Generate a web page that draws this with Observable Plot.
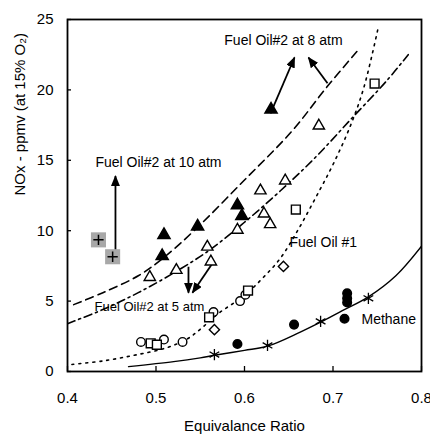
<!DOCTYPE html>
<html>
<head>
<meta charset="utf-8">
<script src="https://cdn.jsdelivr.net/npm/d3@7"></script>
<script src="https://cdn.jsdelivr.net/npm/@observablehq/plot@0.6"></script>
<style>
  html, body { margin: 0; padding: 0; background: #fff; }
  #chart { width: 430px; height: 439px; }
</style>
</head>
<body>
<div id="chart"></div>
<script>
// ---------- data ----------
const xTicks = [0.4, 0.5, 0.6, 0.7, 0.8];
const yTicks = [0, 5, 10, 15, 20, 25];
const xLabel = "Equivalance Ratio";
const yLabel = "NOx - ppmv (at 15% O\u2082)";

// fitted curves
const fo8CurveX = [0.407, 0.44, 0.48, 0.507, 0.543, 0.6, 0.654, 0.693, 0.728];
const fo8CurveY = [4.75, 5.6, 6.8, 8.0, 10.0, 13.6, 17.1, 20.2, 22.8];
const fo5CurveX = [0.4, 0.44, 0.48, 0.52, 0.56, 0.6, 0.64, 0.68, 0.72, 0.76, 0.785];
const fo5CurveY = [3.4, 4.4, 5.6, 7.0, 8.6, 10.6, 12.8, 15.2, 17.9, 20.6, 22.5];
const fo1CurveX = [0.405, 0.44, 0.475, 0.51, 0.535, 0.55, 0.57, 0.6, 0.62, 0.64, 0.66, 0.68, 0.7, 0.72, 0.735, 0.751];
const fo1CurveY = [0.5, 0.75, 1.15, 1.65, 2.3, 3.0, 4.1, 5.4, 6.6, 8.0, 10.0, 12.3, 14.7, 17.5, 20.2, 24.4];
const meCurveX = [0.469, 0.52, 0.55, 0.566, 0.6, 0.626, 0.663, 0.686, 0.71, 0.74, 0.771, 0.8];
const meCurveY = [0.35, 0.7, 0.97, 1.15, 1.5, 1.8, 2.8, 3.5, 4.3, 5.3, 6.8, 8.9];

// measured points
const filledTriX = [0.630, 0.509, 0.507, 0.547, 0.592, 0.597];
const filledTriY = [18.6, 9.7, 8.2, 10.3, 11.8, 11.05];
const openTriX = [0.684, 0.618, 0.646, 0.622, 0.629, 0.592, 0.558, 0.562, 0.493, 0.523];
const openTriY = [17.45, 12.85, 13.55, 11.2, 10.45, 10.05, 8.85, 7.8, 6.7, 7.2];
const openSqX = [0.747, 0.658, 0.56, 0.604, 0.494, 0.501];
const openSqY = [20.45, 11.5, 3.85, 5.75, 2.0, 1.9];
const openCircX = [0.483, 0.499, 0.509, 0.530, 0.565, 0.595, 0.601];
const openCircY = [2.1, 1.9, 2.27, 2.1, 4.22, 5.0, 5.45];
const openDiaX = [0.644, 0.566];
const openDiaY = [7.46, 2.97];
const filledCircX = [0.592, 0.656, 0.716, 0.716, 0.716, 0.713];
const filledCircY = [1.95, 3.33, 5.55, 5.2, 4.9, 3.75];
const asteriskX = [0.566, 0.626, 0.686, 0.740];
const asteriskY = [1.2, 1.85, 3.56, 5.2];
const plusX = [0.435, 0.451];
const plusY = [9.35, 8.15];

// annotations
const centerLabelText = ["Fuel Oil#2 at 8 atm"];
const centerLabelX = [0.644];
const centerLabelY = [23.5];
const startLabelText = ["Fuel Oil#2 at 10 atm", "Fuel Oil #1", "Methane"];
const startLabelX = [0.4316, 0.6508, 0.7322];
const startLabelY = [14.87, 9.14, 3.68];
const label5Text = ["Fuel Oil#2 at 5 atm"];
const label5X = [0.4305];
const label5Y = [4.62];

const arrowX1 = [0.4542, 0.6294, 0.6938, 0.5367, 0.565];
const arrowY1 = [8.64, 18.34, 20.47, 7.44, 7.79];
const arrowX2 = [0.4542, 0.6565, 0.6723, 0.5367, 0.5412];
const arrowY2 = [13.88, 22.3, 22.3, 5.59, 5.59];

// ---------- helpers ----------
const pts = (xs, ys) => xs.map((x, i) => ({x, y: ys[i]}));
const idx = a => a.map((_, i) => i);
const font = "'Liberation Sans', Arial, Helvetica, sans-serif";

const lineOpts = (dash) => ({x: "x", y: "y", curve: "catmull-rom", stroke: "black", strokeWidth: 1.6, strokeDasharray: dash, clip: true});

const chart = Plot.plot({
  width: 430,
  height: 439,
  marginLeft: 67,
  marginRight: 9,
  marginTop: 19,
  marginBottom: 68,
  style: {fontFamily: font, fontSize: "15px", background: "white", color: "black"},
  x: {domain: [0.4, 0.8], label: null},
  y: {domain: [0, 25], label: null},
  marks: [
    // curves
    Plot.line(pts(fo8CurveX, fo8CurveY), lineOpts("8,5")),
    Plot.line(pts(fo5CurveX, fo5CurveY), lineOpts("8,4,2,4")),
    Plot.line(pts(fo1CurveX, fo1CurveY), lineOpts("2,5")),
    Plot.line(pts(meCurveX, meCurveY), {...lineOpts(null), strokeWidth: 1.4}),

    // arrows
    Plot.link(idx(arrowX1), {x1: arrowX1, y1: arrowY1, x2: arrowX2, y2: arrowY2, stroke: "black", strokeWidth: 1.8}),

    // markers
    Plot.dot(pts(plusX, plusY), {x: "x", y: "y", symbol: "square", r: 8.5, fill: "#a8a8a8", stroke: "none"}),
    Plot.dot(pts(plusX, plusY), {x: "x", y: "y", symbol: "plus", r: 3.4, stroke: "black", strokeWidth: 1.5}),
    Plot.dot(pts(openTriX, openTriY), {x: "x", y: "y", symbol: "triangle", r: 4.2, fill: "white", stroke: "black", strokeWidth: 1.4}),
    Plot.dot(pts(filledTriX, filledTriY), {x: "x", y: "y", symbol: "triangle", r: 4.5, fill: "black", stroke: "black"}),
    Plot.dot(pts(openCircX, openCircY), {x: "x", y: "y", symbol: "circle", r: 4.3, fill: "white", stroke: "black", strokeWidth: 1.4}),
    Plot.dot(pts(openSqX, openSqY), {x: "x", y: "y", symbol: "square", r: 5, fill: "white", stroke: "black", strokeWidth: 1.4}),
    Plot.dot(pts(openDiaX, openDiaY), {x: "x", y: "y", symbol: "diamond2", r: 4.6, fill: "white", stroke: "black", strokeWidth: 1.4}),
    Plot.dot(pts(filledCircX, filledCircY), {x: "x", y: "y", symbol: "circle", r: 4.3, fill: "black", stroke: "black"}),
    Plot.dot(pts(asteriskX, asteriskY), {x: "x", y: "y", symbol: "asterisk", r: 5.3, stroke: "black", strokeWidth: 1.3}),

    // labels
    Plot.text(idx(centerLabelText), {x: centerLabelX, y: centerLabelY, text: centerLabelText, textAnchor: "middle", fontSize: 14, fill: "black"}),
    Plot.text(idx(startLabelText), {x: startLabelX, y: startLabelY, text: startLabelText, textAnchor: "start", fontSize: 14, fill: "black"}),
    Plot.text(idx(label5Text), {x: label5X, y: label5Y, text: label5Text, textAnchor: "start", fontSize: 13, fill: "black"}),

    // axes
    Plot.axisX(xTicks, {tickSize: -5, tickPadding: 26, tickFormat: d3.format(".1f"), label: null, fontSize: 15, strokeWidth: 1.3}),
    Plot.axisY(yTicks, {tickSize: -4, tickPadding: 18, tickFormat: d3.format("d"), label: null, fontSize: 15, strokeWidth: 1.3}),
    Plot.text([xLabel], {frameAnchor: "bottom", dy: 59, text: d => d, fontSize: 15, fill: "black"}),
    Plot.text([yLabel], {frameAnchor: "left", dx: -47, rotate: -90, text: d => d, fontSize: 15, fill: "black"}),
    Plot.frame({stroke: "black", strokeWidth: 1.8})
  ]
});

// filled arrowheads on the link paths
const ns = "http://www.w3.org/2000/svg";
const defs = document.createElementNS(ns, "defs");
const marker = document.createElementNS(ns, "marker");
marker.setAttribute("id", "ahead");
marker.setAttribute("viewBox", "0 0 11 9");
marker.setAttribute("refX", "10");
marker.setAttribute("refY", "4.5");
marker.setAttribute("markerWidth", "11");
marker.setAttribute("markerHeight", "9");
marker.setAttribute("markerUnits", "userSpaceOnUse");
marker.setAttribute("orient", "auto");
const mp = document.createElementNS(ns, "path");
mp.setAttribute("d", "M0,0L11,4.5L0,9Z");
mp.setAttribute("fill", "black");
mp.setAttribute("stroke", "none");
marker.appendChild(mp);
defs.appendChild(marker);
chart.insertBefore(defs, chart.firstChild);
chart.querySelectorAll('g[aria-label="link"] path').forEach(p => p.setAttribute("marker-end", "url(#ahead)"));

document.getElementById("chart").appendChild(chart);
</script>
</body>
</html>
